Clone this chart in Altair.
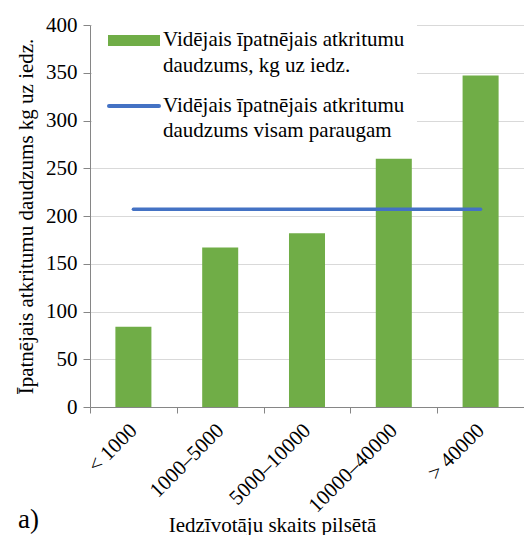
import altair as alt
import pandas as pd

categories = ["< 1000", "1000–5000", "5000–10000", "10000–40000", "> 40000"]
values = [84, 167, 182, 260, 347]
sample_average = 207

legend_bar_label = "Vidējais īpatnējais atkritumu\ndaudzums, kg uz iedz."
legend_line_label = "Vidējais īpatnējais atkritumu\ndaudzums visam paraugam"
x_title = "Iedzīvotāju skaits pilsētā"
y_title = "Īpatnējais atkritumu daudzums kg uz iedz."
panel_label = "a)"

FONT = "Liberation Serif"
FS = 21
GREEN = "#70AD47"
BLUE = "#4472C4"
AXIS_GRAY = "#868686"
GRID_GRAY = "#D9D9D9"

df = pd.DataFrame({"cat": categories, "val": values})
df_line = pd.DataFrame({"cat": categories, "avg": [sample_average] * len(categories)})

x_enc = alt.X(
    "cat:N",
    sort=categories,
    scale=alt.Scale(paddingInner=0, paddingOuter=0),
    axis=alt.Axis(
        title=x_title,
        titleFont=FONT,
        titleFontSize=FS,
        titleFontWeight="normal",
        titleColor="black",
        titleX=182,
        titleY=124,
        titleAlign="center",
        titleBaseline="alphabetic",
        labelAngle=-45,
        labelAlign="right",
        labelBaseline="middle",
        labelFont=FONT,
        labelFontSize=FS,
        labelColor="black",
        labelPadding=14,
        tickBand="extent",
        tickSize=6,
        tickColor=AXIS_GRAY,
        domainColor=AXIS_GRAY,
        grid=False,
    ),
)

y_scale = alt.Scale(domain=[0, 400], nice=False)
y_axis = alt.Axis(
    title=y_title,
    titleFont=FONT,
    titleFontSize=FS,
    titleFontWeight="normal",
    titleColor="black",
    titlePadding=9,
    values=[0, 50, 100, 150, 200, 250, 300, 350, 400],
    labelFont=FONT,
    labelFontSize=FS,
    labelColor="black",
    labelPadding=6,
    tickSize=7,
    tickColor=AXIS_GRAY,
    domainColor=AXIS_GRAY,
    gridColor=GRID_GRAY,
    gridWidth=1,
)

bars = alt.Chart(df).mark_bar(color=GREEN, width=alt.RelativeBandSize(0.415)).encode(
    x=x_enc,
    y=alt.Y("val:Q", scale=y_scale, axis=y_axis),
)

line = alt.Chart(df_line).mark_line(color=BLUE, strokeWidth=3.5, strokeCap="round").encode(
    x=alt.X("cat:N", sort=categories),
    y=alt.Y("avg:Q"),
)

one = pd.DataFrame({"k": [0]})

legend_box = alt.Chart(one).mark_rect(color="white").encode(
    x=alt.value(2), x2=alt.value(327), y=alt.value(-3), y2=alt.value(130)
)
legend_rect = alt.Chart(one).mark_rect(color=GREEN).encode(
    x=alt.value(18), x2=alt.value(70), y=alt.value(10), y2=alt.value(21)
)
legend_rule = alt.Chart(one).mark_rule(color=BLUE, strokeWidth=4, strokeCap="round").encode(
    x=alt.value(19), x2=alt.value(69), y=alt.value(81)
)
legend_text1 = alt.Chart(one).mark_text(
    align="left", baseline="alphabetic", font=FONT, fontSize=FS, lineBreak="\n", lineHeight=26, color="black"
).encode(x=alt.value(73), y=alt.value(21), text=alt.value(legend_bar_label))
legend_text2 = alt.Chart(one).mark_text(
    align="left", baseline="alphabetic", font=FONT, fontSize=FS, lineBreak="\n", lineHeight=25, color="black"
).encode(x=alt.value(73), y=alt.value(87), text=alt.value(legend_line_label))

label_a = alt.Chart(one).mark_text(
    align="left", baseline="alphabetic", font=FONT, fontSize=27, color="black"
).encode(x=alt.value(-72), y=alt.value(503), text=alt.value(panel_label))

chart = alt.layer(
    bars, line, legend_box, legend_rect, legend_rule, legend_text1, legend_text2, label_a
).properties(
    width=434,
    height=382,
    autosize=alt.AutoSizeParams(type="none"),
    padding={"left": 82, "top": 17, "right": 0, "bottom": 128},
).configure_view(stroke=None)

chart.save("out.html", embed_options={"renderer": "svg", "actions": False})
